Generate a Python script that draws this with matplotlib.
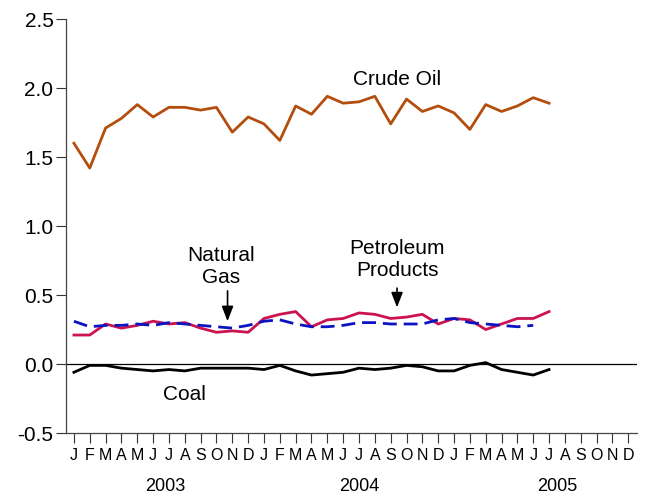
import matplotlib
matplotlib.use("Agg")
import matplotlib.pyplot as plt
import numpy as np

plt.rcParams['font.family'] = ['Liberation Sans', 'DejaVu Sans']

month_labels = ["J", "F", "M", "A", "M", "J", "J", "A", "S", "O", "N", "D"] * 3
years = ["2003", "2004", "2005"]

crude_oil = [1.60, 1.42, 1.71, 1.78, 1.88, 1.79, 1.86, 1.86, 1.84, 1.86, 1.68, 1.79,
             1.74, 1.62, 1.87, 1.81, 1.94, 1.89, 1.90, 1.94, 1.74, 1.92, 1.83, 1.87,
             1.82, 1.70, 1.88, 1.83, 1.87, 1.93, 1.89]
petroleum = [0.21, 0.21, 0.29, 0.26, 0.28, 0.31, 0.29, 0.30, 0.26, 0.23, 0.24, 0.23,
             0.33, 0.36, 0.38, 0.27, 0.32, 0.33, 0.37, 0.36, 0.33, 0.34, 0.36, 0.29,
             0.33, 0.32, 0.25, 0.29, 0.33, 0.33, 0.38]
natural_gas = [0.31, 0.27, 0.28, 0.28, 0.29, 0.28, 0.30, 0.29, 0.28, 0.27, 0.26, 0.28,
               0.31, 0.32, 0.29, 0.27, 0.27, 0.28, 0.30, 0.30, 0.29, 0.29, 0.29, 0.32,
               0.33, 0.30, 0.29, 0.28, 0.27, 0.28]
coal = [-0.06, -0.01, -0.01, -0.03, -0.04, -0.05, -0.04, -0.05, -0.03, -0.03, -0.03, -0.03,
        -0.04, -0.01, -0.05, -0.08, -0.07, -0.06, -0.03, -0.04, -0.03, -0.01, -0.02, -0.05,
        -0.05, -0.01, 0.01, -0.04, -0.06, -0.08, -0.04]

fig = plt.figure(figsize=(6.47, 4.98), dpi=100)
ax = fig.add_axes([0.102, 0.1305, 0.8825, 0.8313])

x_idx = np.arange(len(month_labels))

ax.plot(np.arange(len(crude_oil)), crude_oil, color='#B44E0E', lw=2.0)
ax.plot(np.arange(len(petroleum)), petroleum, color='#CC1250', lw=2.0)
ax.plot(np.arange(len(natural_gas)), natural_gas, color='#0A14C0', lw=2.0,
        linestyle=(0, (5, 2.5)))
ax.plot(np.arange(len(coal)), coal, color='black', lw=2.0)

ax.axhline(0, color='black', lw=0.9)

ax.set_xlim(-0.5, 35.55)
ax.set_ylim(-0.5, 2.5)
ax.set_yticks([-0.5, 0.0, 0.5, 1.0, 1.5, 2.0, 2.5])
ax.set_yticklabels(["-0.5", "0.0", "0.5", "1.0", "1.5", "2.0", "2.5"], fontsize=15)
ax.set_xticks(x_idx)
ax.set_xticklabels(month_labels, fontsize=11.5)
ax.tick_params(axis='x', length=7, width=0.8, pad=4, color='#333333')
ax.tick_params(axis='y', length=7, width=0.8, pad=2, color='#333333')

for s in ['top', 'right']:
    ax.spines[s].set_visible(False)
for s in ['left', 'bottom']:
    ax.spines[s].set_color('#444444')
    ax.spines[s].set_linewidth(0.9)

year_pos = [5.75, 18.0, 30.5]
for yp, yl in zip(year_pos, years):
    ax.annotate(yl, xy=(yp, -0.13), xycoords=('data', 'axes fraction'),
                ha='center', va='center', fontsize=13)

ax.text(20.4, 2.06, "Crude Oil", ha='center', va='center', fontsize=15)
ax.text(9.3, 0.71, "Natural\nGas", ha='center', va='center', fontsize=15, linespacing=1.2)
ax.text(20.4, 0.755, "Petroleum\nProducts", ha='center', va='center', fontsize=15, linespacing=1.2)
ax.text(7.0, -0.22, "Coal", ha='center', va='center', fontsize=15)

arrow_kw = dict(arrowstyle='-|>,head_length=0.9,head_width=0.35', color='black', lw=1.2)
ax.annotate("", xy=(9.7, 0.29), xytext=(9.7, 0.55), arrowprops=arrow_kw)
ax.annotate("", xy=(20.4, 0.39), xytext=(20.4, 0.57), arrowprops=arrow_kw)

fig.savefig("out.png", dpi=100)
